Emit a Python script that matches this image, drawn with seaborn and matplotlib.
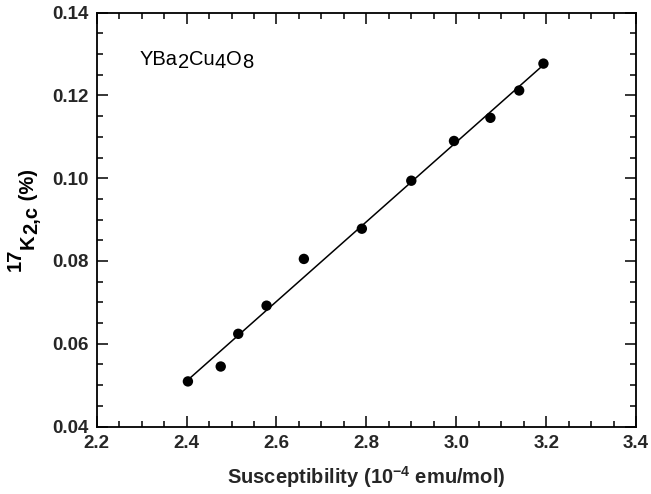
import matplotlib
matplotlib.use("Agg")
import matplotlib.pyplot as plt
from matplotlib.ticker import MultipleLocator
from matplotlib.transforms import IdentityTransform
import numpy as np
import pandas as pd
import seaborn as sns

# Data
susceptibility = [2.403, 2.476, 2.515, 2.578, 2.661, 2.790, 2.900, 2.995, 3.076, 3.140, 3.194]
knight_shift = [0.0509, 0.0545, 0.0624, 0.0692, 0.0805, 0.0878, 0.0994, 0.1090, 0.1146, 0.1212, 0.1277]
x_ticks = [2.2, 2.4, 2.6, 2.8, 3.0, 3.2, 3.4]
y_ticks = [0.04, 0.06, 0.08, 0.10, 0.12, 0.14]
formula_parts = [("YBa", False), ("2", True), ("Cu", False), ("4", True), ("O", False), ("8", True)]
ylabel_parts = [("17", "sup"), ("K", None), ("2,c", "sub"), (" (%)", None)]
xlabel_text = r"Susceptibility (10$^{\mathbf{-4}}$ emu/mol)"

sns.set_style("ticks")
plt.rcParams["font.family"] = ["Liberation Sans", "DejaVu Sans"]
plt.rcParams["mathtext.fontset"] = "custom"
plt.rcParams["mathtext.rm"] = "Liberation Sans"
plt.rcParams["mathtext.bf"] = "Liberation Sans:bold"
plt.rcParams["mathtext.it"] = "Liberation Sans:italic"

df = pd.DataFrame({"chi": susceptibility, "K": knight_shift})

W, H = 651, 494
fig = plt.figure(figsize=(W / 100, H / 100), dpi=100)
ax = fig.add_axes([0.1485, 0.1366, 0.977 - 0.1485, 0.9743 - 0.1366])

sns.regplot(data=df, x="chi", y="K", ax=ax, ci=None, truncate=True,
            scatter_kws=dict(s=56, color="black", edgecolor="none", alpha=1, zorder=3),
            line_kws=dict(color="black", lw=1.1))

ax.set_xlim(x_ticks[0], x_ticks[-1])
ax.set_ylim(y_ticks[0], y_ticks[-1])
ax.set_xticks(x_ticks)
ax.set_yticks(y_ticks)
ax.set_xticklabels([f"{v:.1f}" for v in x_ticks])
ax.set_yticklabels([f"{v:.2f}" for v in y_ticks])
ax.xaxis.set_minor_locator(MultipleLocator(0.05))
ax.yaxis.set_minor_locator(MultipleLocator(0.005))
ax.tick_params(which="both", direction="in", top=True, right=True, width=1.1, color="black")
ax.tick_params(which="major", length=8, labelsize=13.5, pad=6)
ax.tick_params(which="minor", length=4)
for lab in ax.get_xticklabels() + ax.get_yticklabels():
    lab.set_fontweight("bold")
for sp in ax.spines.values():
    sp.set_linewidth(1.3)
    sp.set_color("black")

ax.set_xlabel(xlabel_text, fontsize=14.5, fontweight="bold", labelpad=9)
ax.set_ylabel("")

renderer = fig.canvas.get_renderer()

# Inset formula with full-size, lowered digits (pixel coordinates)
x = 140.0
base = H - 64.5
for s, is_sub in formula_parts:
    t = fig.text(x, base - (3.4 if is_sub else 0.0), s, transform=IdentityTransform(),
                 ha="left", va="baseline", fontsize=14.5, color="black")
    x += t.get_window_extent(renderer).width

# Rotated y label with full-size super/subscripts
y = H - 271.0
xb = 34.0
for s, kind in ylabel_parts:
    shift = {"sup": -13.5, "sub": 3.5, None: 0.0}[kind]
    t = fig.text(xb + shift, y, s, transform=IdentityTransform(), rotation=90,
                 rotation_mode="anchor", ha="left", va="baseline",
                 fontsize=14.5, fontweight="bold", color="black")
    y += t.get_window_extent(renderer).height

fig.savefig("out.png", dpi=100)
